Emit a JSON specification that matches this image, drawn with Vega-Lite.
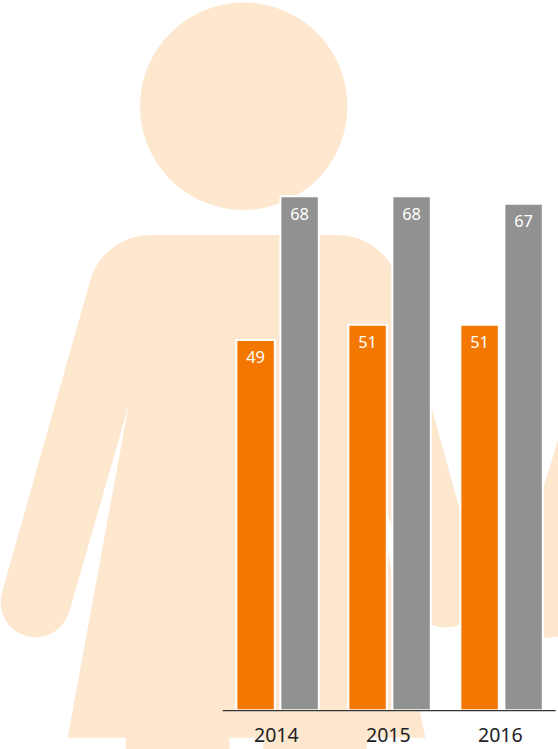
{
"$schema":"https://vega.github.io/schema/vega-lite/v6.json",
"width":558,"height":749,"padding":0,"autosize":{"type":"none"},
"background":"white",
"config":{"view":{"stroke":null}},
"datasets":{
"bars":[
{"year":"2014","group":"women","value":49},{"year":"2014","group":"men","value":68},
{"year":"2015","group":"women","value":51},{"year":"2015","group":"men","value":68},
{"year":"2016","group":"women","value":51},{"year":"2016","group":"men","value":67}],
"figure":[
{"part":"a","i":1,"x":150,"y":235},{"part":"a","i":2,"x":338,"y":235},{"part":"a","i":3,"x":348.8,"y":235.9},{"part":"a","i":4,"x":359.2,"y":238.7},{"part":"a","i":5,"x":369,"y":243.3},{"part":"a","i":6,"x":377.9,"y":249.5},{"part":"a","i":7,"x":385.5,"y":257.1},{"part":"a","i":8,"x":391.7,"y":266},{"part":"a","i":9,"x":396.3,"y":275.8},{"part":"a","i":10,"x":397.6,"y":279.9},
{"part":"a","i":11,"x":431.7,"y":408},{"part":"a","i":12,"x":459.3,"y":508},{"part":"a","i":13,"x":479.4,"y":583.4},
{"part":"a","i":14,"x":480.7,"y":592.7},{"part":"a","i":15,"x":479.5,"y":601.8},{"part":"a","i":16,"x":476,"y":610.2},{"part":"a","i":17,"x":470.4,"y":617.4},{"part":"a","i":18,"x":463.2,"y":623},{"part":"a","i":19,"x":454.8,"y":626.5},{"part":"a","i":20,"x":445.7,"y":627.7},{"part":"a","i":21,"x":436.6,"y":626.5},{"part":"a","i":22,"x":428.2,"y":623},{"part":"a","i":23,"x":421,"y":617.4},{"part":"a","i":24,"x":415.4,"y":610.2},{"part":"a","i":25,"x":412,"y":602},
{"part":"a","i":26,"x":361,"y":417},{"part":"a","i":27,"x":425.3,"y":737.7},{"part":"a","i":28,"x":367,"y":737.7},{"part":"a","i":29,"x":367,"y":749},{"part":"a","i":30,"x":263.3,"y":749},{"part":"a","i":31,"x":263.3,"y":737.7},{"part":"a","i":32,"x":229.5,"y":737.7},{"part":"a","i":33,"x":229.5,"y":749},{"part":"a","i":34,"x":125.7,"y":749},{"part":"a","i":35,"x":125.7,"y":737.7},{"part":"a","i":36,"x":67.7,"y":737.7},
{"part":"a","i":37,"x":128.7,"y":405},{"part":"a","i":38,"x":69.2,"y":612.1},{"part":"a","i":39,"x":65.8,"y":620},{"part":"a","i":40,"x":60.2,"y":627.2},{"part":"a","i":41,"x":53,"y":632.8},{"part":"a","i":42,"x":44.6,"y":636.3},{"part":"a","i":43,"x":35.5,"y":637.5},{"part":"a","i":44,"x":26.4,"y":636.3},{"part":"a","i":45,"x":18,"y":632.8},{"part":"a","i":46,"x":10.8,"y":627.2},{"part":"a","i":47,"x":5.2,"y":620},{"part":"a","i":48,"x":1.7,"y":611.6},{"part":"a","i":49,"x":0.5,"y":602.5},{"part":"a","i":50,"x":1.8,"y":592.9},
{"part":"a","i":51,"x":90.4,"y":279.9},{"part":"a","i":52,"x":91.7,"y":275.8},{"part":"a","i":53,"x":96.3,"y":266},{"part":"a","i":54,"x":102.5,"y":257.1},{"part":"a","i":55,"x":110.1,"y":249.5},{"part":"a","i":56,"x":119,"y":243.3},{"part":"a","i":57,"x":128.8,"y":238.7},{"part":"a","i":58,"x":139.2,"y":235.9},
{"part":"b","i":1,"x":558,"y":440},{"part":"b","i":2,"x":543.3,"y":488},{"part":"b","i":3,"x":514.3,"y":593.7},{"part":"b","i":4,"x":513,"y":603},{"part":"b","i":5,"x":514.2,"y":612},{"part":"b","i":6,"x":517.7,"y":620.5},{"part":"b","i":7,"x":523.3,"y":627.7},{"part":"b","i":8,"x":530.5,"y":633.3},{"part":"b","i":9,"x":538.9,"y":636.8},{"part":"b","i":10,"x":548,"y":638},{"part":"b","i":11,"x":558,"y":636.5}],
"head":[{"x":243.7,"y":106.3}],
"baseline":[{"x0":222.7,"x1":555.7,"y":710.7}]
},
"layer":[
{"data":{"name":"figure"},
 "mark":{"type":"line","filled":true,"fill":"#fde7cf","stroke":null},
 "encoding":{
  "x":{"field":"x","type":"quantitative","scale":{"domain":[0,558],"nice":false,"zero":false},"axis":null},
  "y":{"field":"y","type":"quantitative","scale":{"domain":[749,0],"nice":false,"zero":false},"axis":null},
  "detail":{"field":"part"},
  "order":{"field":"i","type":"quantitative"}}},
{"data":{"name":"head"},
 "mark":{"type":"circle","size":43015,"color":"#fde7cf","opacity":1},
 "encoding":{
  "x":{"field":"x","type":"quantitative","scale":{"domain":[0,558],"nice":false,"zero":false},"axis":null},
  "y":{"field":"y","type":"quantitative","scale":{"domain":[749,0],"nice":false,"zero":false},"axis":null}}},
{"data":{"name":"bars"},
 "encoding":{
  "x":{"field":"year","type":"nominal","scale":{"domain":["2014","2015","2016"],"range":[221.6,557.6],"paddingInner":0,"paddingOuter":0},
   "axis":{"title":null,"orient":"bottom","offset":-39,"domain":false,"ticks":false,"labelAngle":0,"labelFont":"Noto Sans","labelFontSize":19.5,"labelColor":"#222222","labelPadding":16.5,"labelOffset":-1.3,"grid":false,"zindex":1}},
  "xOffset":{"field":"group","type":"nominal","scale":{"domain":["women","men"],"paddingInner":0.127,"paddingOuter":0.336}},
  "y":{"field":"value","type":"quantitative","scale":{"domain":[0,68],"range":[710.3,196.3],"nice":false},"axis":null}},
 "layer":[
  {"mark":{"type":"bar","stroke":"white","strokeWidth":2},
   "encoding":{"color":{"field":"group","type":"nominal","legend":null,"scale":{"domain":["women","men"],"range":["#f37700","#919191"]}}}},
  {"mark":{"type":"text","color":"white","font":"Noto Sans","fontSize":16.5,"baseline":"middle","dy":18.5},
   "encoding":{"text":{"field":"value","type":"quantitative"}}}]},
{"data":{"name":"baseline"},
 "mark":{"type":"rule","color":"#333333","strokeWidth":1.2},
 "encoding":{
  "x":{"field":"x0","type":"quantitative","scale":{"domain":[0,558],"nice":false,"zero":false},"axis":null},
  "x2":{"field":"x1"},
  "y":{"field":"y","type":"quantitative","scale":{"domain":[749,0],"nice":false,"zero":false},"axis":null}}}
],
"resolve":{"scale":{"x":"independent","y":"independent"}}
}
